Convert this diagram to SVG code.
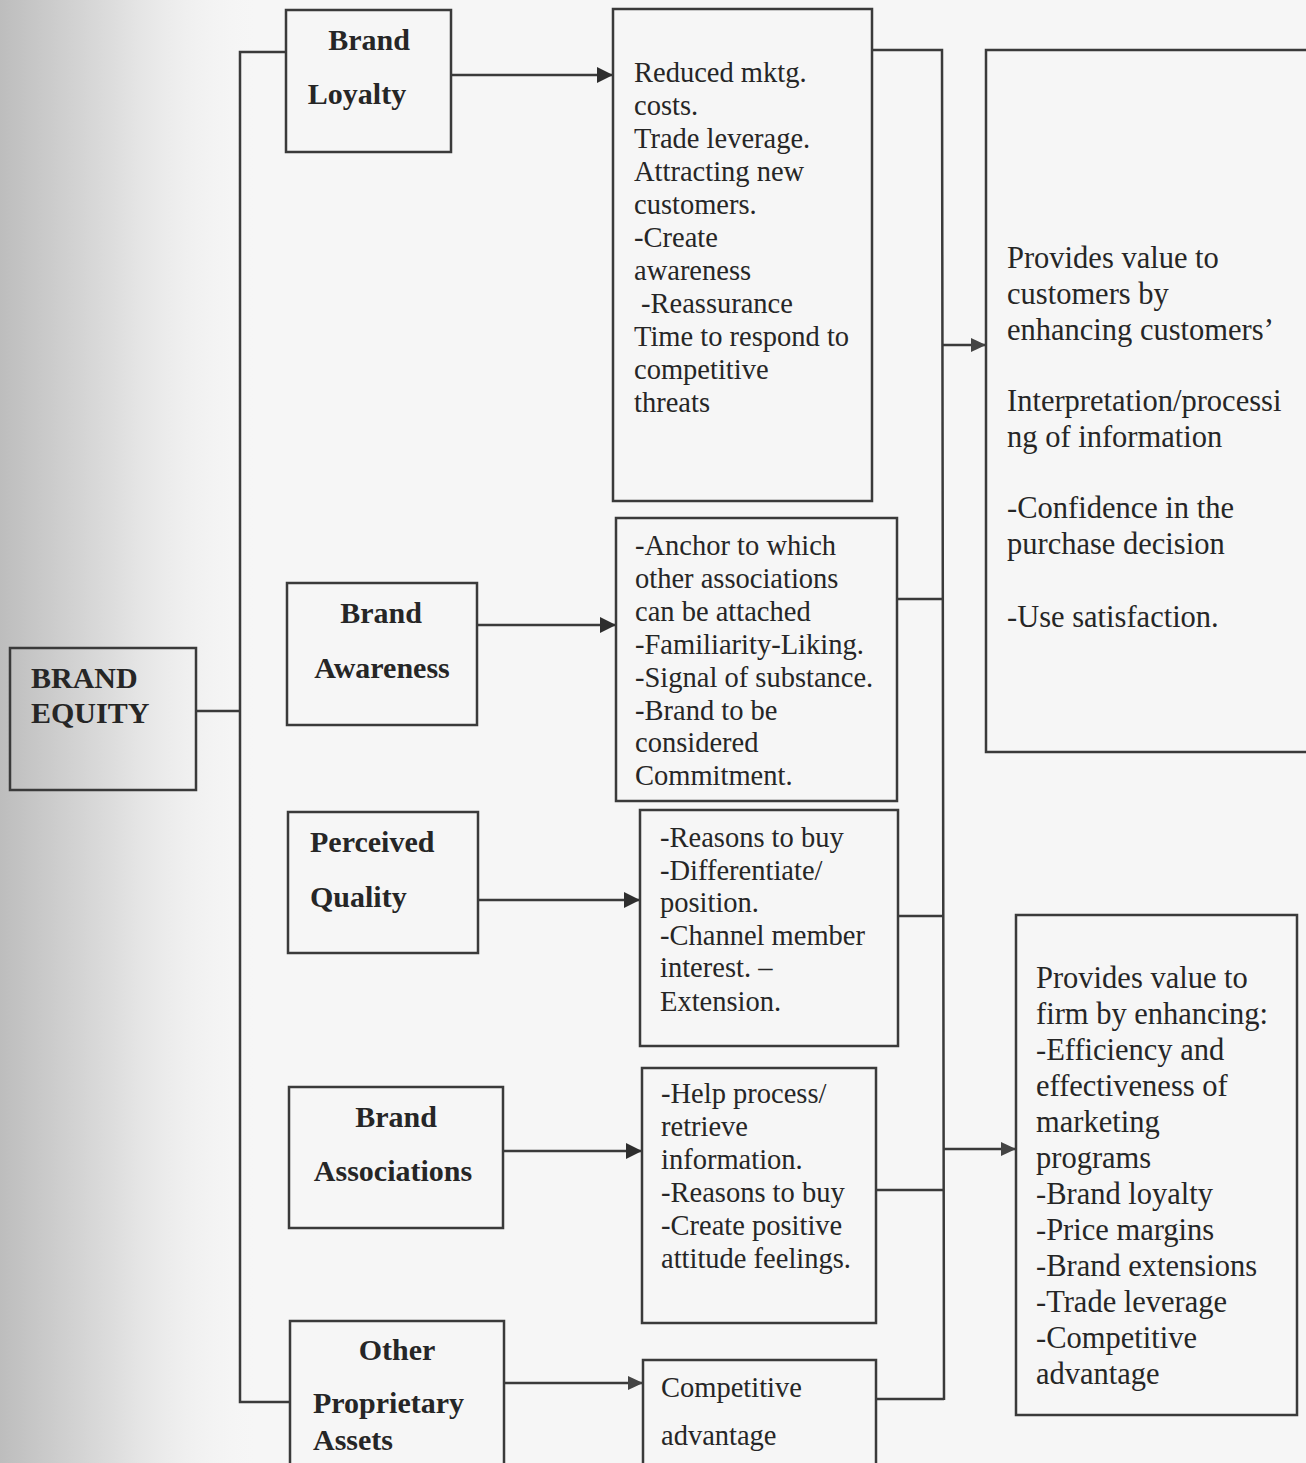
<svg xmlns="http://www.w3.org/2000/svg" width="1306" height="1463" viewBox="0 0 1306 1463">
<defs>
<linearGradient id="shade" x1="0" y1="0" x2="1" y2="0">
<stop offset="0" stop-color="#bdbdbd"/>
<stop offset="0.45" stop-color="#dedede"/>
<stop offset="1" stop-color="#f5f5f5" stop-opacity="0"/>
</linearGradient>
<marker id="arr" markerUnits="userSpaceOnUse" markerWidth="18" markerHeight="16" refX="16" refY="8" orient="auto">
<path d="M0,0 L16,8 L0,16 z" fill="#2e2e2e"/>
</marker>
<marker id="arrf" markerUnits="userSpaceOnUse" markerWidth="18" markerHeight="16" refX="16" refY="8" orient="auto">
<path d="M1,1 L16,8 L1,15 z" fill="#444444"/>
</marker>
</defs>
<style>
.box{fill:none;stroke:#3a3a3a;stroke-width:2.5}
.ln{fill:none;stroke:#3a3a3a;stroke-width:2.5}
.lab{font-family:"Liberation Serif","Times New Roman",serif;font-weight:bold;font-size:30px;fill:#262626}
.txt{font-family:"Liberation Serif","Times New Roman",serif;font-size:28.5px;fill:#262626}
.big{font-family:"Liberation Serif","Times New Roman",serif;font-size:30.5px;fill:#262626}
.c{text-anchor:middle}
</style>
<rect x="0" y="0" width="1306" height="1463" fill="#f6f6f6"/>
<rect x="0" y="0" width="260" height="1463" fill="url(#shade)"/>

<g id="connectors">
<polyline class="ln" points="286,52 240,52 240,1402 290,1402"/>
<line class="ln" x1="196" y1="711" x2="240" y2="711"/>
<line class="ln" x1="451" y1="75" x2="613" y2="75" marker-end="url(#arr)"/>
<line class="ln" x1="477" y1="625" x2="616" y2="625" marker-end="url(#arr)"/>
<line class="ln" x1="478" y1="900" x2="640" y2="900" marker-end="url(#arr)"/>
<line class="ln" x1="503" y1="1151" x2="642" y2="1151" marker-end="url(#arr)"/>
<line class="ln" x1="504" y1="1383" x2="643" y2="1383" marker-end="url(#arrf)"/>
<polyline class="ln" points="872,50 942,50 944,1400"/>
<line class="ln" x1="897" y1="599" x2="943" y2="599"/>
<line class="ln" x1="898" y1="916" x2="943" y2="916"/>
<line class="ln" x1="876" y1="1190" x2="944" y2="1190"/>
<line class="ln" x1="876" y1="1399" x2="944" y2="1399"/>
<line class="ln" x1="942" y1="345" x2="986" y2="345" marker-end="url(#arrf)"/>
<line class="ln" x1="944" y1="1149" x2="1016" y2="1149" marker-end="url(#arrf)"/>
</g>

<g id="brand-equity">
<rect class="box" x="10" y="648" width="186" height="142"/>
<text class="lab" x="31" y="688">BRAND</text>
<text class="lab" x="31" y="723">EQUITY</text>
</g>

<g id="brand-loyalty">
<rect class="box" x="286" y="10" width="165" height="142"/>
<text class="lab c" x="369" y="50">Brand</text>
<text class="lab c" x="357" y="104">Loyalty</text>
</g>

<g id="brand-awareness">
<rect class="box" x="287" y="583" width="190" height="142"/>
<text class="lab c" x="381" y="623">Brand</text>
<text class="lab c" x="382" y="678">Awareness</text>
</g>

<g id="perceived-quality">
<rect class="box" x="288" y="812" width="190" height="141"/>
<text class="lab" x="310" y="852">Perceived</text>
<text class="lab" x="310" y="907">Quality</text>
</g>

<g id="brand-associations">
<rect class="box" x="289" y="1087" width="214" height="141"/>
<text class="lab c" x="396" y="1127">Brand</text>
<text class="lab c" x="393" y="1181">Associations</text>
</g>

<g id="other-assets">
<rect class="box" x="290" y="1321" width="214" height="170"/>
<text class="lab c" x="397" y="1360">Other</text>
<text class="lab" x="313" y="1413">Proprietary</text>
<text class="lab" x="313" y="1450">Assets</text>
</g>

<g id="loyalty-benefits">
<rect class="box" x="613" y="9" width="259" height="492"/>
<text class="txt" x="634" y="81.5">Reduced mktg.</text>
<text class="txt" x="634" y="114.5">costs.</text>
<text class="txt" x="634" y="147.5">Trade leverage.</text>
<text class="txt" x="634" y="180.5">Attracting new</text>
<text class="txt" x="634" y="213.5">customers.</text>
<text class="txt" x="634" y="246.5">-Create</text>
<text class="txt" x="634" y="279.5">awareness</text>
<text class="txt" x="641" y="312.5">-Reassurance</text>
<text class="txt" x="634" y="345.5">Time to respond to</text>
<text class="txt" x="634" y="378.5">competitive</text>
<text class="txt" x="634" y="411.5">threats</text>
</g>

<g id="awareness-benefits">
<rect class="box" x="616" y="518" width="281" height="283"/>
<text class="txt" x="635" y="555">-Anchor to which</text>
<text class="txt" x="635" y="588">other associations</text>
<text class="txt" x="635" y="621">can be attached</text>
<text class="txt" x="635" y="654">-Familiarity-Liking.</text>
<text class="txt" x="635" y="687">-Signal of substance.</text>
<text class="txt" x="635" y="720">-Brand to be</text>
<text class="txt" x="635" y="752">considered</text>
<text class="txt" x="635" y="785">Commitment.</text>
</g>

<g id="quality-benefits">
<rect class="box" x="640" y="810" width="258" height="236"/>
<text class="txt" x="660" y="847">-Reasons to buy</text>
<text class="txt" x="660" y="880">-Differentiate/</text>
<text class="txt" x="660" y="912">position.</text>
<text class="txt" x="660" y="945">-Channel member</text>
<text class="txt" x="660" y="977">interest. –</text>
<text class="txt" x="660" y="1011">Extension.</text>
</g>

<g id="associations-benefits">
<rect class="box" x="642" y="1068" width="234" height="255"/>
<text class="txt" x="661" y="1103">-Help process/</text>
<text class="txt" x="661" y="1136">retrieve</text>
<text class="txt" x="661" y="1169">information.</text>
<text class="txt" x="661" y="1202">-Reasons to buy</text>
<text class="txt" x="661" y="1235">-Create positive</text>
<text class="txt" x="661" y="1268">attitude feelings.</text>
</g>

<g id="competitive-advantage">
<rect class="box" x="643" y="1360" width="233" height="130"/>
<text class="txt" x="661" y="1397">Competitive</text>
<text class="txt" x="661" y="1445">advantage</text>
</g>

<g id="customer-value">
<rect class="box" x="986" y="50" width="330" height="702"/>
<text class="big" x="1007" y="268">Provides value to</text>
<text class="big" x="1007" y="304">customers by</text>
<text class="big" x="1007" y="340">enhancing customers’</text>
<text class="big" x="1007" y="411">Interpretation/processi</text>
<text class="big" x="1007" y="447">ng of information</text>
<text class="big" x="1007" y="518">-Confidence in the</text>
<text class="big" x="1007" y="554">purchase decision</text>
<text class="big" x="1007" y="627">-Use satisfaction.</text>
</g>

<g id="firm-value">
<rect class="box" x="1016" y="915" width="281" height="500"/>
<text class="big" x="1036" y="988">Provides value to</text>
<text class="big" x="1036" y="1024">firm by enhancing:</text>
<text class="big" x="1036" y="1060">-Efficiency and</text>
<text class="big" x="1036" y="1096">effectiveness of</text>
<text class="big" x="1036" y="1132">marketing</text>
<text class="big" x="1036" y="1168">programs</text>
<text class="big" x="1036" y="1204">-Brand loyalty</text>
<text class="big" x="1036" y="1240">-Price margins</text>
<text class="big" x="1036" y="1276">-Brand extensions</text>
<text class="big" x="1036" y="1312">-Trade leverage</text>
<text class="big" x="1036" y="1348">-Competitive</text>
<text class="big" x="1036" y="1384">advantage</text>
</g>
</svg>
